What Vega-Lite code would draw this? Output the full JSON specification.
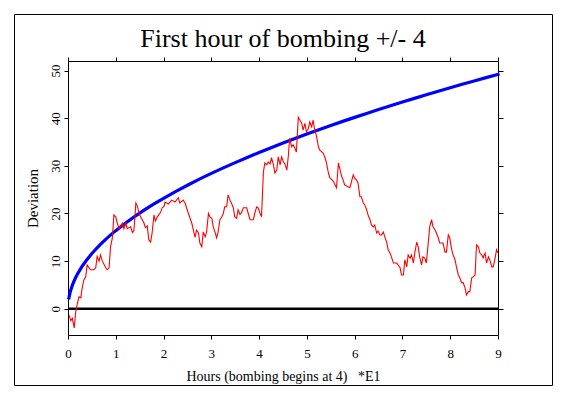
{
  "$schema": "https://vega.github.io/schema/vega-lite/v6.json",
  "width": 538,
  "height": 371,
  "autosize": {"type": "none"},
  "padding": {"left": 14, "top": 14, "right": 17, "bottom": 14},
  "background": "white",
  "title": {
    "text": "First hour of bombing +/- 4",
    "font": "Liberation Serif",
    "fontSize": 26,
    "fontWeight": "normal",
    "color": "black",
    "frame": "group",
    "anchor": "middle",
    "baseline": "alphabetic",
    "offset": -59
  },
  "config": {
    "view": {"stroke": "black", "strokeWidth": 1},
    "axis": {
      "domainColor": "black",
      "tickColor": "black",
      "labelColor": "black",
      "titleColor": "black",
      "labelFont": "Liberation Serif",
      "titleFont": "Liberation Serif",
      "labelFontSize": 13,
      "titleFontSize": 13,
      "titleFontWeight": "normal",
      "grid": false
    }
  },
  "datasets": {
    "zero": [{"h": 0, "h2": 9, "v": 0}],
    "blue": [
      {"h": 0.02, "v": 2.3}, {"h": 0.04, "v": 3.3}, {"h": 0.06, "v": 4.0}, {"h": 0.08, "v": 4.6},
      {"h": 0.1, "v": 5.2}, {"h": 0.15, "v": 6.35}, {"h": 0.2, "v": 7.33}, {"h": 0.3, "v": 8.98},
      {"h": 0.4, "v": 10.37}, {"h": 0.5, "v": 11.6}, {"h": 0.6, "v": 12.7}, {"h": 0.7, "v": 13.72},
      {"h": 0.8, "v": 14.67}, {"h": 0.9, "v": 15.56}, {"h": 1.0, "v": 16.4}, {"h": 1.2, "v": 17.97},
      {"h": 1.4, "v": 19.4}, {"h": 1.6, "v": 20.74}, {"h": 1.8, "v": 22.0}, {"h": 2.0, "v": 23.19},
      {"h": 2.25, "v": 24.6}, {"h": 2.5, "v": 25.93}, {"h": 2.75, "v": 27.2}, {"h": 3.0, "v": 28.41},
      {"h": 3.25, "v": 29.57}, {"h": 3.5, "v": 30.68}, {"h": 3.75, "v": 31.76}, {"h": 4.0, "v": 32.8},
      {"h": 4.25, "v": 33.81}, {"h": 4.5, "v": 34.79}, {"h": 4.75, "v": 35.74}, {"h": 5.0, "v": 36.67},
      {"h": 5.25, "v": 37.58}, {"h": 5.5, "v": 38.46}, {"h": 5.75, "v": 39.33}, {"h": 6.0, "v": 40.17},
      {"h": 6.25, "v": 41.0}, {"h": 6.5, "v": 41.81}, {"h": 6.75, "v": 42.61}, {"h": 7.0, "v": 43.39},
      {"h": 7.25, "v": 44.16}, {"h": 7.5, "v": 44.91}, {"h": 7.75, "v": 45.66}, {"h": 8.0, "v": 46.39},
      {"h": 8.25, "v": 47.11}, {"h": 8.5, "v": 47.81}, {"h": 8.75, "v": 48.51}, {"h": 9.0, "v": 49.2}
    ],
    "red": [
      {"h": 0.02, "v": -1.3}, {"h": 0.06, "v": -2.5}, {"h": 0.09, "v": -2.0}, {"h": 0.13, "v": -4.0},
      {"h": 0.16, "v": -0.8}, {"h": 0.19, "v": 0.8}, {"h": 0.23, "v": 2.5}, {"h": 0.27, "v": 2.3},
      {"h": 0.29, "v": 4.0}, {"h": 0.33, "v": 6.0}, {"h": 0.37, "v": 6.7}, {"h": 0.40, "v": 9.2},
      {"h": 0.44, "v": 8.6}, {"h": 0.47, "v": 8.2}, {"h": 0.54, "v": 8.2}, {"h": 0.58, "v": 8.6},
      {"h": 0.61, "v": 11.0}, {"h": 0.65, "v": 10.0}, {"h": 0.68, "v": 11.3}, {"h": 0.72, "v": 10.0},
      {"h": 0.79, "v": 8.6}, {"h": 0.82, "v": 8.2}, {"h": 0.86, "v": 8.6}, {"h": 0.89, "v": 13.0},
      {"h": 0.93, "v": 15.0}, {"h": 0.96, "v": 19.7}, {"h": 1.00, "v": 19.3}, {"h": 1.03, "v": 18.0},
      {"h": 1.07, "v": 16.8}, {"h": 1.10, "v": 17.4}, {"h": 1.14, "v": 18.0}, {"h": 1.17, "v": 16.8},
      {"h": 1.21, "v": 18.0}, {"h": 1.24, "v": 16.8}, {"h": 1.31, "v": 17.2}, {"h": 1.35, "v": 16.0},
      {"h": 1.38, "v": 16.4}, {"h": 1.42, "v": 22.2}, {"h": 1.45, "v": 21.6}, {"h": 1.49, "v": 20.0},
      {"h": 1.52, "v": 19.3}, {"h": 1.59, "v": 18.0}, {"h": 1.62, "v": 17.0}, {"h": 1.66, "v": 17.4},
      {"h": 1.69, "v": 14.5}, {"h": 1.73, "v": 14.0}, {"h": 1.76, "v": 15.9}, {"h": 1.80, "v": 19.7},
      {"h": 1.83, "v": 18.4}, {"h": 1.87, "v": 19.3}, {"h": 1.94, "v": 20.3}, {"h": 1.97, "v": 21.2},
      {"h": 2.01, "v": 21.5}, {"h": 2.03, "v": 22.4}, {"h": 2.10, "v": 22.0}, {"h": 2.17, "v": 22.8},
      {"h": 2.24, "v": 22.4}, {"h": 2.31, "v": 23.3}, {"h": 2.34, "v": 22.2}, {"h": 2.41, "v": 22.8},
      {"h": 2.45, "v": 22.2}, {"h": 2.52, "v": 20.0}, {"h": 2.59, "v": 18.0}, {"h": 2.66, "v": 15.0},
      {"h": 2.69, "v": 16.5}, {"h": 2.73, "v": 15.9}, {"h": 2.76, "v": 13.8}, {"h": 2.80, "v": 13.0},
      {"h": 2.83, "v": 16.1}, {"h": 2.87, "v": 15.1}, {"h": 2.90, "v": 16.1}, {"h": 2.94, "v": 20.0},
      {"h": 2.97, "v": 19.3}, {"h": 3.01, "v": 19.0}, {"h": 3.04, "v": 17.2}, {"h": 3.08, "v": 16.0},
      {"h": 3.11, "v": 14.9}, {"h": 3.14, "v": 16.0}, {"h": 3.18, "v": 18.7}, {"h": 3.22, "v": 19.3},
      {"h": 3.25, "v": 20.0}, {"h": 3.28, "v": 21.4}, {"h": 3.32, "v": 21.4}, {"h": 3.35, "v": 23.9},
      {"h": 3.39, "v": 22.8}, {"h": 3.42, "v": 22.2}, {"h": 3.46, "v": 21.2}, {"h": 3.49, "v": 19.3},
      {"h": 3.53, "v": 19.0}, {"h": 3.56, "v": 20.8}, {"h": 3.60, "v": 19.8}, {"h": 3.63, "v": 20.1},
      {"h": 3.67, "v": 21.2}, {"h": 3.74, "v": 21.2}, {"h": 3.77, "v": 20.1}, {"h": 3.81, "v": 18.7},
      {"h": 3.88, "v": 18.7}, {"h": 3.91, "v": 20.1}, {"h": 3.95, "v": 21.4}, {"h": 3.98, "v": 21.2},
      {"h": 4.02, "v": 20.0}, {"h": 4.05, "v": 19.3}, {"h": 4.09, "v": 28.7}, {"h": 4.12, "v": 30.6},
      {"h": 4.16, "v": 30.2}, {"h": 4.19, "v": 30.8}, {"h": 4.23, "v": 30.4}, {"h": 4.26, "v": 31.7},
      {"h": 4.30, "v": 30.2}, {"h": 4.33, "v": 28.5}, {"h": 4.37, "v": 29.1}, {"h": 4.40, "v": 31.9},
      {"h": 4.44, "v": 30.2}, {"h": 4.47, "v": 31.9}, {"h": 4.51, "v": 30.8}, {"h": 4.54, "v": 30.4},
      {"h": 4.58, "v": 29.1}, {"h": 4.61, "v": 31.9}, {"h": 4.64, "v": 35.8}, {"h": 4.68, "v": 34.0},
      {"h": 4.71, "v": 34.4}, {"h": 4.75, "v": 33.7}, {"h": 4.78, "v": 32.9}, {"h": 4.82, "v": 40.2},
      {"h": 4.85, "v": 39.6}, {"h": 4.89, "v": 39.0}, {"h": 4.92, "v": 37.5}, {"h": 4.96, "v": 38.9},
      {"h": 4.99, "v": 37.1}, {"h": 5.03, "v": 37.8}, {"h": 5.06, "v": 39.2}, {"h": 5.10, "v": 38.2},
      {"h": 5.13, "v": 39.6}, {"h": 5.17, "v": 37.1}, {"h": 5.20, "v": 36.4}, {"h": 5.24, "v": 34.0},
      {"h": 5.27, "v": 33.3}, {"h": 5.34, "v": 32.7}, {"h": 5.38, "v": 31.7}, {"h": 5.41, "v": 30.6},
      {"h": 5.45, "v": 28.5}, {"h": 5.48, "v": 27.5}, {"h": 5.55, "v": 26.8}, {"h": 5.59, "v": 26.0},
      {"h": 5.62, "v": 25.4}, {"h": 5.66, "v": 30.6}, {"h": 5.69, "v": 29.3}, {"h": 5.73, "v": 27.7},
      {"h": 5.76, "v": 27.0}, {"h": 5.79, "v": 26.0}, {"h": 5.86, "v": 25.6}, {"h": 5.90, "v": 25.4},
      {"h": 5.97, "v": 28.1}, {"h": 6.00, "v": 27.4}, {"h": 6.04, "v": 27.0}, {"h": 6.07, "v": 26.4},
      {"h": 6.11, "v": 23.5}, {"h": 6.14, "v": 23.5}, {"h": 6.18, "v": 22.2}, {"h": 6.21, "v": 21.8},
      {"h": 6.25, "v": 20.8}, {"h": 6.28, "v": 19.7}, {"h": 6.32, "v": 18.7}, {"h": 6.35, "v": 17.6},
      {"h": 6.39, "v": 17.2}, {"h": 6.42, "v": 17.6}, {"h": 6.46, "v": 15.9}, {"h": 6.49, "v": 16.3},
      {"h": 6.53, "v": 15.5}, {"h": 6.56, "v": 15.5}, {"h": 6.60, "v": 16.1}, {"h": 6.63, "v": 15.1},
      {"h": 6.67, "v": 14.0}, {"h": 6.70, "v": 12.4}, {"h": 6.74, "v": 11.7}, {"h": 6.77, "v": 10.9},
      {"h": 6.81, "v": 9.6}, {"h": 6.88, "v": 9.6}, {"h": 6.91, "v": 9.2}, {"h": 6.95, "v": 8.6},
      {"h": 6.98, "v": 7.1}, {"h": 7.02, "v": 7.1}, {"h": 7.05, "v": 10.3}, {"h": 7.09, "v": 8.8},
      {"h": 7.12, "v": 11.3}, {"h": 7.16, "v": 10.6}, {"h": 7.19, "v": 11.3}, {"h": 7.23, "v": 9.6},
      {"h": 7.26, "v": 11.9}, {"h": 7.30, "v": 14.0}, {"h": 7.33, "v": 13.0}, {"h": 7.36, "v": 10.9},
      {"h": 7.40, "v": 9.2}, {"h": 7.43, "v": 10.9}, {"h": 7.47, "v": 10.6}, {"h": 7.50, "v": 9.6},
      {"h": 7.54, "v": 13.8}, {"h": 7.57, "v": 17.2}, {"h": 7.61, "v": 18.7}, {"h": 7.64, "v": 17.2},
      {"h": 7.68, "v": 16.6}, {"h": 7.71, "v": 15.9}, {"h": 7.75, "v": 14.9}, {"h": 7.78, "v": 13.8},
      {"h": 7.85, "v": 13.8}, {"h": 7.89, "v": 11.9}, {"h": 7.92, "v": 11.9}, {"h": 7.96, "v": 15.5},
      {"h": 7.99, "v": 14.9}, {"h": 8.03, "v": 12.4}, {"h": 8.06, "v": 11.3}, {"h": 8.10, "v": 10.3},
      {"h": 8.13, "v": 8.8}, {"h": 8.17, "v": 7.1}, {"h": 8.20, "v": 6.5}, {"h": 8.24, "v": 5.5},
      {"h": 8.27, "v": 5.5}, {"h": 8.31, "v": 4.4}, {"h": 8.34, "v": 2.9}, {"h": 8.38, "v": 3.6},
      {"h": 8.41, "v": 3.6}, {"h": 8.45, "v": 6.5}, {"h": 8.48, "v": 6.7}, {"h": 8.52, "v": 7.1},
      {"h": 8.55, "v": 13.4}, {"h": 8.59, "v": 13.0}, {"h": 8.62, "v": 11.7}, {"h": 8.66, "v": 11.3},
      {"h": 8.69, "v": 10.7}, {"h": 8.73, "v": 11.7}, {"h": 8.76, "v": 9.6}, {"h": 8.80, "v": 10.9},
      {"h": 8.83, "v": 10.2}, {"h": 8.87, "v": 8.8}, {"h": 8.90, "v": 8.8}, {"h": 8.94, "v": 10.7},
      {"h": 8.97, "v": 12.4}, {"h": 9.00, "v": 11.7}
    ]
  },
  "resolve": {"axis": {"x": "independent", "y": "independent"}},
  "layer": [
    {
      "data": {"name": "zero"},
      "mark": {"type": "rule", "color": "black", "strokeWidth": 2.5},
      "encoding": {
        "x": {
          "field": "h", "type": "quantitative",
          "scale": {"domain": [0, 9], "range": [54, 484], "nice": false, "zero": false},
          "axis": {
            "orient": "bottom", "offset": -50, "values": [0, 1, 2, 3, 4, 5, 6, 7, 8, 9],
            "tickSize": 4, "labelPadding": 8, "title": "Hours (bombing begins at 4)\u00a0\u00a0\u00a0*E1",
            "titlePadding": 9, "titleFontSize": 14, "labelFlush": false
          }
        },
        "x2": {"field": "h2"},
        "y": {
          "field": "v", "type": "quantitative",
          "scale": {"domain": [-5.5, 52], "range": [321, 47], "nice": false, "zero": false},
          "axis": {
            "orient": "left", "offset": -54, "values": [0, 10, 20, 30, 40, 50],
            "tickSize": 4, "labelAngle": -90, "labelAlign": "center", "labelBaseline": "bottom",
            "labelPadding": 2, "title": "Deviation", "titlePadding": 9, "titleFontSize": 15
          }
        }
      }
    },
    {
      "data": {"name": "blue"},
      "mark": {"type": "line", "color": "#0000ff", "strokeWidth": 3.2, "strokeCap": "square"},
      "encoding": {
        "x": {
          "field": "h", "type": "quantitative",
          "scale": {"domain": [0, 9], "range": [54, 484], "nice": false, "zero": false},
          "axis": {"orient": "top", "offset": -47, "values": [0, 1, 2, 3, 4, 5, 6, 7, 8, 9], "tickSize": 4, "labels": false, "title": null}
        },
        "y": {
          "field": "v", "type": "quantitative",
          "scale": {"domain": [-5.5, 52], "range": [321, 47], "nice": false, "zero": false},
          "axis": {"orient": "right", "offset": -54, "values": [0, 10, 20, 30, 40, 50], "tickSize": 5, "labels": false, "title": null}
        }
      }
    },
    {
      "data": {"name": "red"},
      "mark": {"type": "line", "color": "#ff0000", "strokeWidth": 1.1},
      "encoding": {
        "x": {"field": "h", "type": "quantitative", "scale": {"domain": [0, 9], "range": [54, 484], "nice": false, "zero": false}, "axis": null},
        "y": {"field": "v", "type": "quantitative", "scale": {"domain": [-5.5, 52], "range": [321, 47], "nice": false, "zero": false}, "axis": null}
      }
    }
  ]
}
